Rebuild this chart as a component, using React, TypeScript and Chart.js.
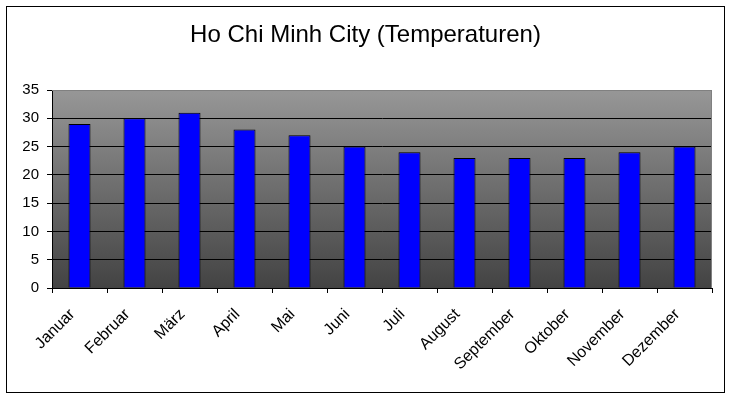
import React, { useEffect, useRef } from "react";
import { Chart, registerables } from "chart.js";

Chart.register(...registerables);

const TITLE = "Ho Chi Minh City (Temperaturen)";
const MONTHS = [
  "Januar", "Februar", "März", "April", "Mai", "Juni",
  "Juli", "August", "September", "Oktober", "November", "Dezember",
];
const TEMPERATURES = [29, 30, 31, 28, 27, 25, 24, 23, 23, 23, 24, 25];
const Y_MIN = 0;
const Y_MAX = 35;
const Y_STEP = 5;

const FONT = "'Liberation Sans', Arial, sans-serif";

const backgroundPlugin = {
  id: "plotBackground",
  beforeDraw(chart: any) {
    const { ctx, chartArea } = chart;
    const { left, top, right, bottom } = chartArea;
    ctx.save();
    const g = ctx.createLinearGradient(0, top, 0, bottom);
    g.addColorStop(0, "#979797");
    g.addColorStop(1, "#434343");
    ctx.fillStyle = g;
    ctx.fillRect(left, top, right - left, bottom - top);
    ctx.restore();
  },
  afterDatasetsDraw(chart: any) {
    const { ctx, chartArea } = chart;
    const { left, top, right, bottom } = chartArea;
    ctx.save();
    ctx.strokeStyle = "#808080";
    ctx.lineWidth = 1;
    ctx.beginPath();
    ctx.moveTo(left, top + 0.5);
    ctx.lineTo(right - 0.5, top + 0.5);
    ctx.lineTo(right - 0.5, bottom);
    ctx.stroke();
    ctx.restore();
  },
  afterDraw(chart: any) {
    const { ctx } = chart;
    ctx.save();
    ctx.fillStyle = "#000";
    ctx.font = `24px ${FONT}`;
    ctx.textAlign = "center";
    ctx.textBaseline = "alphabetic";
    ctx.fillText(TITLE, 365.5, 42);
    ctx.restore();
  },
};

export default function App() {
  const ref = useRef<HTMLCanvasElement | null>(null);

  useEffect(() => {
    if (!ref.current) return;
    const chart = new Chart(ref.current, {
      type: "bar",
      data: {
        labels: MONTHS,
        datasets: [
          {
            data: TEMPERATURES,
            backgroundColor: "#0000ff",
            borderColor: "#000000",
            borderWidth: 1,
            barPercentage: 0.4,
            categoryPercentage: 1,
          },
        ],
      },
      options: {
        responsive: false,
        animation: false,
        devicePixelRatio: 1,
        layout: { padding: { left: 0, right: 19, top: 90, bottom: 0 } },
        plugins: {
          legend: { display: false },
          title: { display: false },
          tooltip: { enabled: false },
        },
        scales: {
          x: {
            afterFit(scale: any) {
              scale.height = 110;
            },
            grid: {
              display: true,
              offset: true,
              drawOnChartArea: false,
              drawTicks: true,
              tickLength: 5,
              color: "#000",
              tickColor: "#000",
            },
            border: { display: true, color: "#000", width: 1 },
            ticks: {
              color: "#000",
              font: { family: FONT, size: 16 },
              minRotation: 45,
              maxRotation: 45,
              autoSkip: false,
              padding: 12,
              labelOffset: -7,
            },
          },
          y: {
            min: Y_MIN,
            max: Y_MAX,
            afterFit(scale: any) {
              scale.width = 52;
            },
            grid: {
              color: (c: any) => (c.tick && c.tick.value === Y_MAX ? "#808080" : "#000"),
              tickColor: "#000",
              tickLength: 5,
              lineWidth: 1,
            },
            border: { display: true, color: "#000", width: 1 },
            ticks: {
              stepSize: Y_STEP,
              color: "#000",
              font: { family: FONT, size: 15 },
              padding: 8,
            },
          },
        },
      },
      plugins: [backgroundPlugin],
    });
    return () => chart.destroy();
  }, []);

  return (
    <div
      style={{
        position: "fixed",
        left: 0,
        top: 0,
        width: 731,
        height: 398,
        background: "#fff",
      }}
    >
      <canvas
        ref={ref}
        width={731}
        height={398}
        style={{ position: "absolute", left: 0, top: 0, width: 731, height: 398 }}
      />
      <div
        style={{
          position: "absolute",
          left: 6,
          top: 6,
          width: 717,
          height: 385,
          border: "1px solid #000",
          pointerEvents: "none",
        }}
      />
    </div>
  );
}
